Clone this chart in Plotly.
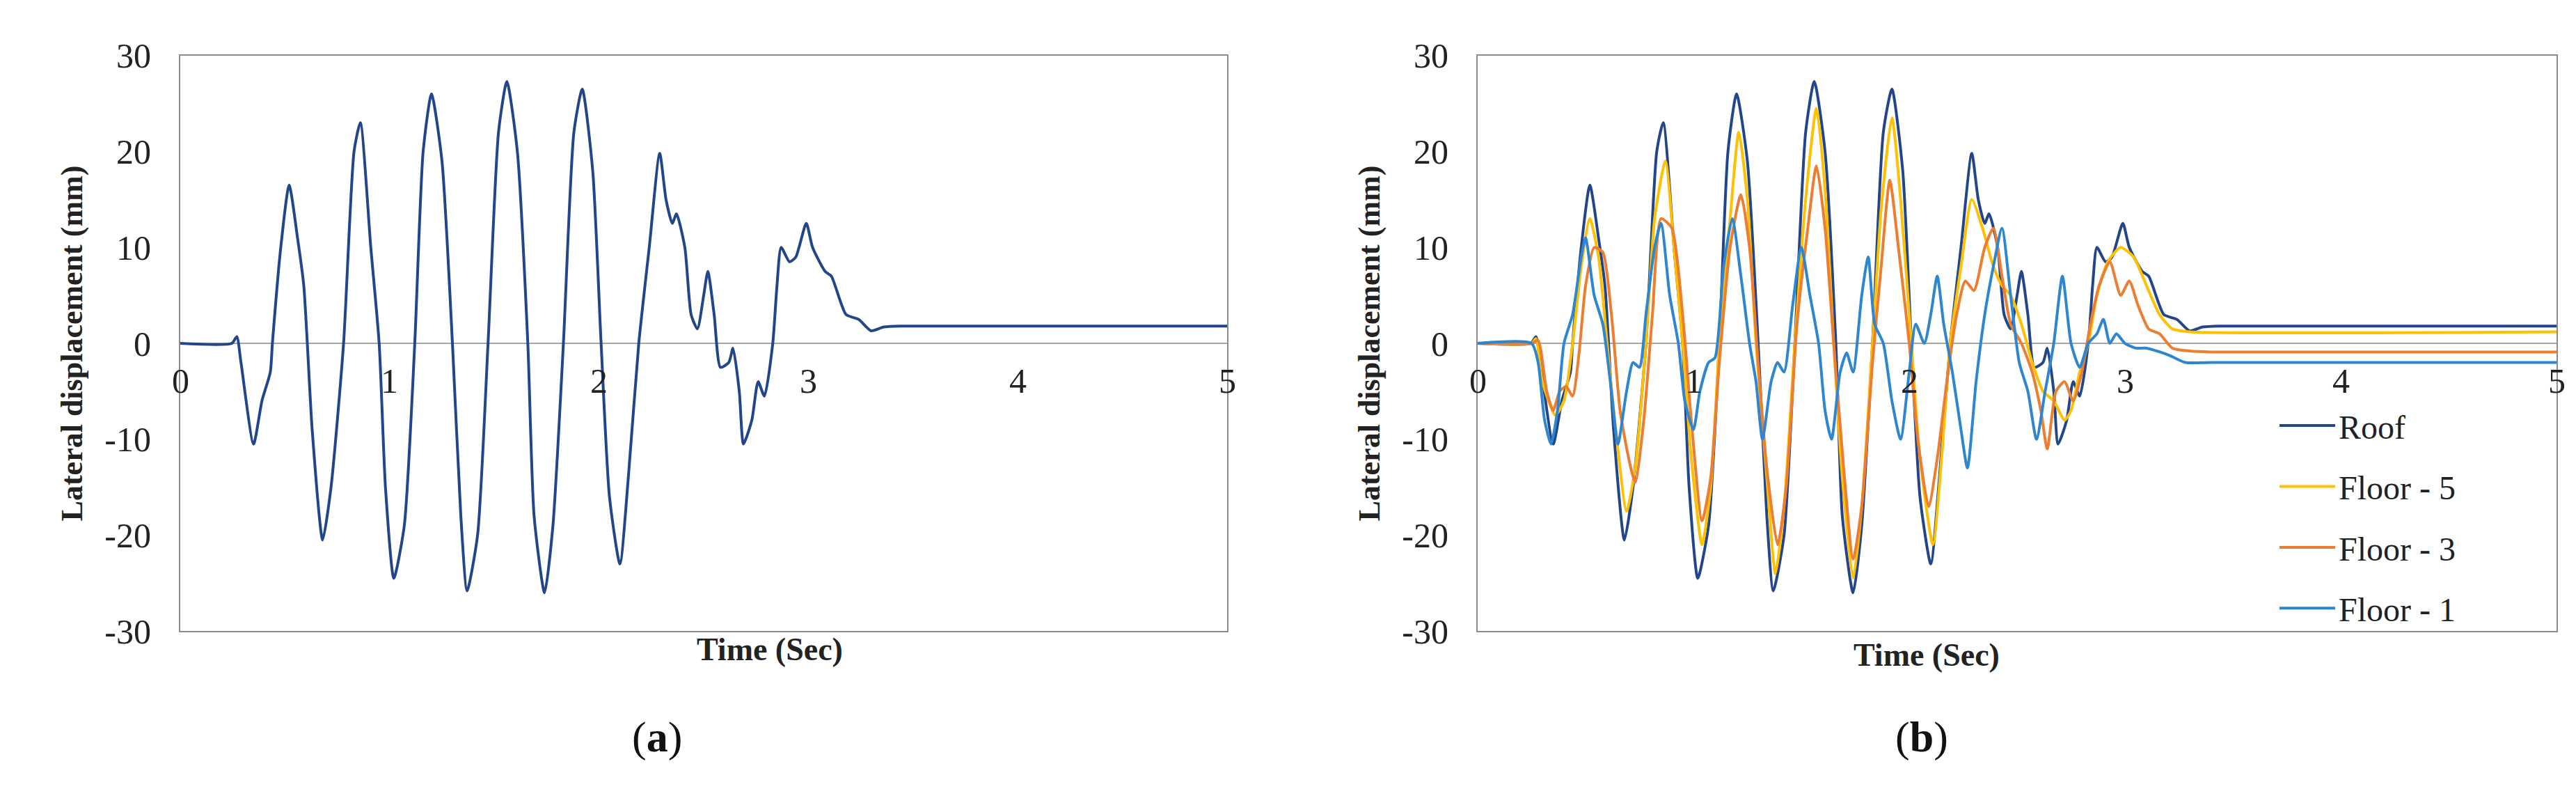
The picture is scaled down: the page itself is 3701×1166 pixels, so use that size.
import plotly.graph_objects as go

# Roof
roof_t = [0,0.246,0.27,0.29,0.35,0.39,0.43,0.44,0.48,0.52,0.56,0.59,0.63,0.68,0.72,0.78,0.83,0.86,0.91,0.95,0.98,1.02,1.07,1.12,1.16,1.20,1.25,1.30,1.34,1.37,1.42,1.47,1.52,1.56,1.61,1.66,1.69,1.74,1.78,1.83,1.88,1.92,1.97,2.01,2.05,2.10,2.14,2.19,2.24,2.29,2.32,2.35,2.37,2.41,2.44,2.47,2.50,2.52,2.55,2.58,2.62,2.64,2.67,2.69,2.73,2.76,2.79,2.83,2.85,2.87,2.91,2.94,2.99,3.02,3.08,3.11,3.18,3.24,3.30,3.36,3.44,5]
roof_y = [0,0,0.7,-2,-10.5,-6,-3,0,10,16.5,11,6,-9,-20.5,-15,0,20,23,10,0,-15,-24.5,-19,0,20,26,19,0,-18,-25.8,-20,0,22,27.3,20,0,-18,-26,-19,0,22,26.5,18,0,-16,-23,-14,0,10,19.8,15,12.5,13.5,10,3,1.5,5,7.5,3,-2.5,-2,-0.5,-5,-10.5,-8,-4,-5.5,0,6,10,8.5,9,12.5,10,7.5,7,3,2.5,1.3,1.7,1.8,1.8]

f5_t = [0,0.25,0.27,0.3,0.36,0.4,0.44,0.48,0.52,0.56,0.6,0.64,0.69,0.73,0.78,0.82,0.87,0.91,0.95,0.99,1.04,1.08,1.12,1.17,1.21,1.25,1.29,1.34,1.38,1.42,1.47,1.52,1.57,1.61,1.65,1.69,1.74,1.78,1.83,1.87,1.92,1.96,2.01,2.05,2.11,2.15,2.19,2.24,2.29,2.34,2.39,2.43,2.47,2.52,2.57,2.62,2.67,2.72,2.75,2.79,2.83,2.87,2.92,2.98,3.04,3.10,3.16,3.22,3.30,5]
f5_y = [0,0,0.5,-4,-7.5,-6,0,8,13,9,0,-9,-17.5,-13,0,13,19,10,0,-12,-21,-15,0,13,22,15,0,-14,-24,-17,0,15,24.5,16,0,-14,-24.5,-17,0,14,23.5,15,0,-12,-21,-12,0,8,15,12,8,6,5,2,-2,-5,-6,-8,-7,-3,0,5,8.5,10,9,6,3,1.5,1.2,1.2]

f3_t = [0,0.25,0.28,0.32,0.35,0.38,0.41,0.44,0.47,0.5,0.54,0.58,0.62,0.66,0.7,0.73,0.77,0.81,0.85,0.9,0.95,0.99,1.04,1.08,1.12,1.17,1.22,1.26,1.3,1.34,1.39,1.43,1.48,1.53,1.57,1.61,1.65,1.7,1.74,1.78,1.83,1.87,1.91,1.95,2.0,2.04,2.09,2.13,2.18,2.22,2.26,2.30,2.35,2.39,2.43,2.47,2.52,2.57,2.61,2.64,2.68,2.72,2.76,2.8,2.84,2.88,2.93,2.98,3.02,3.06,3.11,3.16,3.22,3.3,3.4,5]
f3_y = [0,0,0.3,-5,-7,-5,-4.5,-5.5,-1,6,10,9.5,3,-7,-12,-14.5,-8,3,13,12,3,-8,-18.5,-14,-2,10,15.5,10,-2,-13,-21,-15,2,12,18.5,12,0,-14,-22.5,-17,-2,8,17,10,0,-10,-17,-12,-3,3,6.5,5.5,10,12,7,2,0,-3,-7,-11,-5,-4,-6,-3,2,6,8.5,5,6.5,4,1.5,1,-0.5,-0.8,-0.9,-0.9]

f1_t = [0,0.25,0.28,0.31,0.34,0.37,0.4,0.44,0.48,0.5,0.54,0.58,0.62,0.65,0.69,0.72,0.75,0.78,0.82,0.85,0.89,0.93,0.96,1.0,1.03,1.07,1.1,1.14,1.18,1.22,1.26,1.29,1.32,1.36,1.39,1.42,1.46,1.5,1.54,1.58,1.61,1.64,1.68,1.71,1.74,1.78,1.81,1.84,1.88,1.92,1.96,2.0,2.03,2.07,2.1,2.13,2.16,2.2,2.24,2.27,2.31,2.35,2.39,2.43,2.47,2.51,2.55,2.59,2.63,2.67,2.71,2.75,2.79,2.83,2.87,2.9,2.93,2.96,3.0,3.05,3.1,3.2,3.28,3.4,5]
f1_y = [0,0,-2,-8,-10.5,-7,0,3,9,11,5,2,-5,-10.5,-5,-2,-2.5,3,10,12.5,5,0,-6,-9,-5,-2,-1.5,8,13,7,0,-4,-10,-4,-2,-3,4,10,5,0,-7,-10,-3,-1,-3,5,9,2,0,-6,-10,-3,2,0,3,7,2,-3,-9,-13,-4,3,8,12,5,-2,-5,-10,-5,0,7,0,-2.5,0,1,2.5,0,1,0,-0.5,-0.5,-1.2,-2,-2,-2]

x_ticks = [0, 1, 2, 3, 4, 5]
y_ticks = [-30, -20, -10, 0, 10, 20, 30]
y_labels = ["-30", "-20", "-10", "0", "10", "20", "30"]

C_ROOF, C_F5, C_F3, C_F1 = "#23468A", "#FFC000", "#ED7D31", "#2E86D0"
FONT = "Liberation Serif"
TF = 50

fig = go.Figure()
fig.add_trace(go.Scatter(x=roof_t, y=roof_y, mode="lines", line=dict(color=C_ROOF, width=4, shape="spline", smoothing=0.6),
                         showlegend=False, xaxis="x", yaxis="y"))
series = [("Roof", roof_t, roof_y, C_ROOF), ("Floor - 5", f5_t, f5_y, C_F5),
          ("Floor - 3", f3_t, f3_y, C_F3), ("Floor - 1", f1_t, f1_y, C_F1)]
for name, t, y, c in series:
    fig.add_trace(go.Scatter(x=t, y=y, mode="lines", name=name, legendgroup=name,
                             line=dict(color=c, width=4, shape="spline", smoothing=0.6),
                             xaxis="x2", yaxis="y2"))

ax_common = dict(range=[0, 5], showgrid=False, zeroline=False, showticklabels=False,
                 showline=True, mirror=True, linecolor="#8C8C8C", linewidth=2)
ay_common = dict(range=[-30, 30], tickvals=y_ticks, ticktext=y_labels, showgrid=False, zeroline=True,
                 zerolinecolor="#A6A6A6", zerolinewidth=2, showline=True, mirror=True,
                 linecolor="#8C8C8C", linewidth=2, ticks="", ticklabelstandoff=30,
                 tickfont=dict(family=FONT, size=TF, color="#222"),
                 title=dict(text="<b>Lateral displacement (mm)</b>", standoff=18,
                            font=dict(family=FONT, size=44, color="#222")))
ydom = [1 - 915/1166, 1 - 46/1166]
fig.update_layout(
    width=3701, height=1166, margin=dict(l=0, r=0, t=0, b=0),
    plot_bgcolor="white", paper_bgcolor="white",
    xaxis=dict(domain=[251/3701, 1755/3701], anchor="y", **ax_common),
    yaxis=dict(domain=ydom, anchor="x", **ay_common),
    xaxis2=dict(domain=[2115/3701, 3665/3701], anchor="y2", **ax_common),
    yaxis2=dict(domain=ydom, anchor="x2", **ay_common),
    legend=dict(x=3262/3701, y=1 - 565/1166, xanchor="left", yanchor="top",
                font=dict(family=FONT, size=48, color="#222"), bgcolor="rgba(0,0,0,0)",
                tracegroupgap=22, itemwidth=80),
    showlegend=True,
)
for xa, ya in [("x", "y"), ("x2", "y2")]:
    for t in x_ticks:
        fig.add_annotation(x=t, y=0, xref=xa, yref=ya, text=str(t), showarrow=False,
                           yanchor="top", yshift=-24, font=dict(family=FONT, size=TF, color="#222"))
fig.add_annotation(x=991/3701, y=1 - 971/1166, xref="paper", yref="paper", text="<b>Time (Sec)</b>",
                   showarrow=False, font=dict(family=FONT, size=46, color="#222"))
fig.add_annotation(x=2867/3701, y=1 - 980/1166, xref="paper", yref="paper", text="<b>Time (Sec)</b>",
                   showarrow=False, font=dict(family=FONT, size=46, color="#222"))
fig.add_annotation(x=898/3701, y=1 - 1113/1166, xref="paper", yref="paper", text="(<b>a</b>)",
                   showarrow=False, font=dict(family=FONT, size=62, color="#111"))
fig.add_annotation(x=2793/3701, y=1 - 1113/1166, xref="paper", yref="paper", text="(<b>b</b>)",
                   showarrow=False, font=dict(family=FONT, size=62, color="#111"))

fig.write_html("out.html")
